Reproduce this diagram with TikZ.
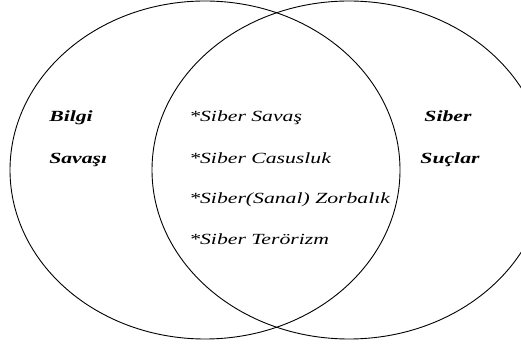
\documentclass[tikz,border=0pt]{standalone}
\usepackage{fontspec}
\setmainfont{Liberation Serif}
\usetikzlibrary{positioning}

\tikzset{
  setline/.style={line width=0.9pt},
  sidelabel/.style={font=\fontsize{15.5}{18}\selectfont\bfseries\itshape, inner sep=0pt, xscale=1.4, anchor=base west},
  itemlabel/.style={font=\fontsize{15.5}{18}\selectfont\itshape, inner sep=0pt, xscale=1.4, anchor=base west}
}

\begin{document}
\begin{tikzpicture}[x=1pt,y=-1pt]
      % Frame of the picture
      \useasboundingbox (0,0) rectangle (521,344);
      \clip (0,0) rectangle (521,344);
      % Centres of the two sets
      \coordinate (L) at (205,170);
      \coordinate (R) at (349,170);
      % Draw the two sets
      \draw[setline] (L) ellipse [x radius=195, y radius=169];
      \draw[setline] (R) ellipse [x radius=197, y radius=169];
      % Left set
      \node[sidelabel] (bilgi) at (49,122) {Bilgi};
      \node[sidelabel] (savasi) at (49,164) {Savaşı};
      % Right set
      \node[sidelabel, anchor=base] (siber) at (448,122) {Siber};
      \node[sidelabel, anchor=base] (suclar) at (450,164) {Suçlar};
      % Common part
      \node[itemlabel] (savas) at (189,122) {*Siber Savaş};
      \node[itemlabel] (casus) at (189,164) {*Siber Casusluk};
      \node[itemlabel] (zorba) at (189,204) {*Siber(Sanal) Zorbalık};
      \node[itemlabel] (teror) at (189,245) {*Siber Terörizm};
\end{tikzpicture}
\end{document}
